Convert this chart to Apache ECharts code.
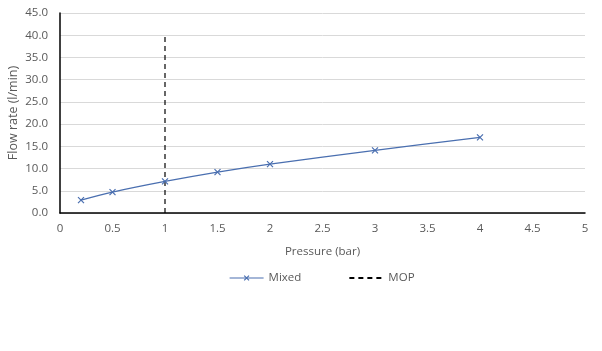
<!DOCTYPE html>
<html><head><meta charset="utf-8">
<script src="https://cdn.jsdelivr.net/npm/echarts@6/dist/echarts.min.js"></script>
<style>html,body{margin:0;padding:0;background:#fff}#c{width:602px;height:351px}</style>
</head><body><div id="c"></div>
<script>
const pressure = [0.2, 0.5, 1, 1.5, 2, 3, 4];
const flowMixed = [2.9, 4.7, 7.1, 9.2, 11.0, 14.1, 17.0];
const mopX = [1, 1];
const mopY = [0, 40];
const xTicks = {min: 0, max: 5, interval: 0.5};
const yTicks = {min: 0, max: 45, interval: 5};

const xMark = 'path://M0,0 L10,10 M10,0 L0,10';
const chart = echarts.init(document.getElementById('c'), null, {renderer: 'canvas'});
const fontFam = '"Open Sans", "DejaVu Sans", sans-serif';
chart.setOption({
  animation: false,
  textStyle: {fontFamily: fontFam},
  grid: {left: 60, right: 17, top: 13, bottom: 138, containLabel: false, outerBoundsMode: 'none'},
  xAxis: {
    type: 'value', min: xTicks.min, max: xTicks.max, interval: xTicks.interval,
    name: 'Pressure (bar)', nameLocation: 'middle', nameGap: 33, nameMoveOverlap: false,
    nameTextStyle: {color: '#595959', fontSize: 11.5, fontFamily: fontFam},
    axisLine: {show: true, lineStyle: {color: '#000', width: 1.5}},
    axisTick: {show: false},
    splitLine: {show: false},
    axisLabel: {color: '#595959', fontSize: 11.5, margin: 10, fontFamily: fontFam}
  },
  yAxis: {
    type: 'value', min: yTicks.min, max: yTicks.max, interval: yTicks.interval,
    name: 'Flow rate (l/min)', nameLocation: 'middle', nameGap: 40, nameRotate: 90, nameMoveOverlap: false,
    nameTextStyle: {color: '#595959', fontSize: 12.5, fontFamily: fontFam},
    axisLine: {show: true, lineStyle: {color: '#000', width: 1.5}},
    axisTick: {show: false},
    splitLine: {show: true, lineStyle: {color: '#d9d9d9', width: 1}},
    axisLabel: {color: '#595959', fontSize: 11.5, margin: 12, fontFamily: fontFam,
      formatter: v => v.toFixed(1)}
  },
  legend: {
    bottom: 62, left: 224, itemGap: 47, itemWidth: 34, itemHeight: 6,
    textStyle: {color: '#595959', fontSize: 11.5, fontFamily: fontFam},
    data: [
      {name: 'Mixed', lineStyle: {width: 1.2}, itemStyle: {borderWidth: 1.2}},
      {name: 'MOP', itemStyle: {opacity: 0}}
    ]
  },
  series: [
    {
      name: 'Mixed', type: 'line', smooth: 0.3,
      data: pressure.map((p, i) => [p, flowMixed[i]]),
      symbol: xMark, symbolSize: 6,
      lineStyle: {color: '#4a6fb0', width: 1.3},
      itemStyle: {color: 'rgba(0,0,0,0)', borderColor: '#4a6fb0', borderWidth: 1.2}
    },
    {
      name: 'MOP', type: 'line',
      data: mopX.map((x, i) => [x, mopY[i]]),
      symbol: 'none', showSymbol: false,
      lineStyle: {color: '#000', width: 1.2, type: [5, 4]},
      itemStyle: {color: '#000'}
    }
  ]
});
</script></body></html>
